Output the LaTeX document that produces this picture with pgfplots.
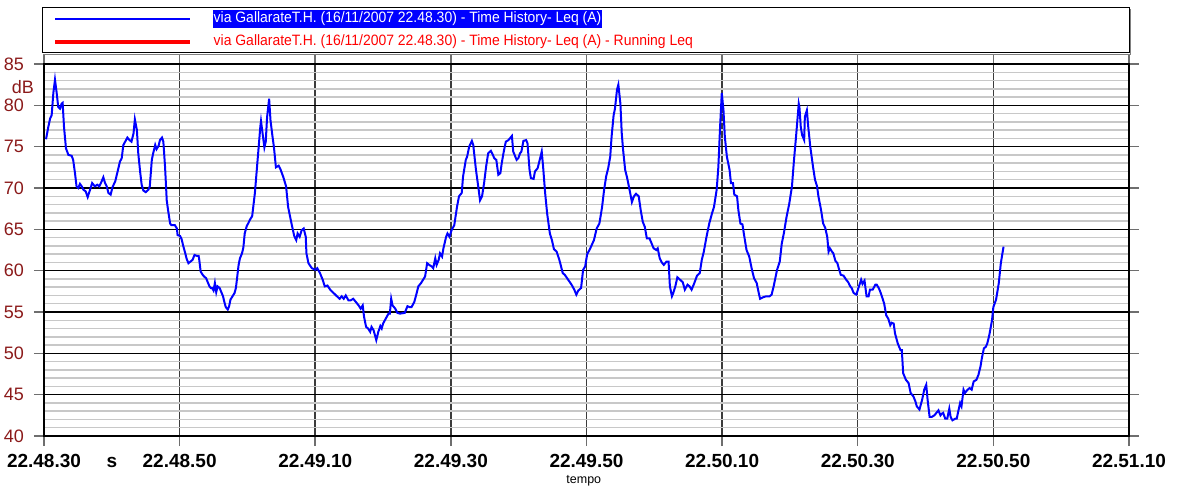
\documentclass[border=0pt]{standalone}
\usepackage{fontspec}
\setmainfont{Liberation Sans}
\usepackage{pgfplots}
\usepackage{graphicx}
\pgfplotsset{compat=1.18}
\definecolor{dred}{RGB}{139,26,26}
\definecolor{vgrid}{RGB}{60,60,60}
\definecolor{mgrid}{RGB}{200,200,200}
\definecolor{tickc}{RGB}{110,110,110}

\pgfplotstableread{
t db
0.3 75.9
0.64 77.4
0.9 78.4
1.13 78.8
1.38 81.5
1.62 83.1
1.87 81.5
2.1 79.8
2.36 79.6
2.6 80.2
2.75 80.3
2.95 77.4
3.24 74.8
3.6 74.0
4.08 73.9
4.3 73.4
4.57 71.8
4.8 70.2
5.06 70.0
5.3 70.5
5.56 70.2
5.8 69.8
6.14 69.6
6.44 68.9
6.8 69.8
7.1 70.6
7.5 70.2
7.86 70.4
8.16 70.2
8.5 70.8
8.75 71.3
9.0 70.6
9.25 70.2
9.5 69.4
9.83 69.2
10.1 70.1
10.5 70.8
10.8 71.8
11.2 73.2
11.46 73.6
11.7 75.2
11.9 75.5
12.3 76.1
12.6 75.8
12.9 75.6
13.2 76.6
13.4 78.3
13.7 77.0
13.9 74.2
14.2 71.8
14.4 70.4
14.65 69.7
15.0 69.5
15.4 69.8
15.6 70.2
15.9 73.4
16.1 74.2
16.4 75.2
16.6 74.7
16.9 75.1
17.1 75.8
17.4 76.1
17.6 75.6
17.85 72.6
18.1 68.5
18.3 67.3
18.6 65.7
18.8 65.5
19.3 65.5
19.6 65.1
19.7 64.3
20.06 64.2
20.3 63.8
20.5 63.1
20.8 62.2
21.05 61.4
21.3 60.9
21.6 61.1
21.9 61.3
22.2 61.9
22.5 61.8
22.8 61.8
22.9 61.3
23.1 59.9
23.4 59.5
23.6 59.3
23.9 59.1
24.1 58.7
24.4 58.1
24.6 57.9
24.8 57.9
25.0 57.6
25.2 58.5
25.4 57.4
25.6 58.1
25.9 57.9
26.1 57.5
26.4 56.9
26.6 56.2
26.8 55.6
27.1 55.3
27.3 55.7
27.5 56.5
27.8 56.9
28.1 57.3
28.3 57.9
28.5 59.3
28.7 60.7
28.9 61.5
29.2 62.1
29.4 62.8
29.6 64.5
29.9 65.4
30.1 65.7
30.4 66.2
30.7 66.6
31.1 69.4
31.5 73.4
31.9 77.4
32.0 78.1
32.3 76.2
32.5 74.9
32.7 75.6
32.9 78.6
33.2 80.8
33.4 78.2
33.7 76.2
33.9 75.0
34.2 72.5
34.6 72.7
34.9 72.2
35.3 71.3
35.7 70.2
36.0 67.7
36.3 66.5
36.5 65.7
36.9 64.2
37.2 63.7
37.4 64.5
37.7 64.1
38.0 64.9
38.3 65.1
38.6 64.1
38.7 62.1
39.0 60.9
39.5 60.3
40.0 60.1
40.3 60.3
40.7 59.7
41.1 58.9
41.4 58.1
41.8 58.2
42.2 57.7
42.7 57.3
43.2 56.9
43.6 56.6
43.9 56.9
44.2 56.6
44.5 57.0
44.9 56.4
45.2 56.4
45.6 56.6
46.0 56.2
46.4 55.8
46.7 55.4
47.0 55.8
47.2 54.4
47.5 53.2
47.8 53.0
48.1 52.6
48.3 53.2
48.6 52.8
49.0 51.6
49.3 52.6
49.6 53.3
49.8 53.0
50.0 53.6
50.4 54.2
50.8 54.8
51.0 54.8
51.2 56.6
51.4 55.8
51.8 55.4
52.1 54.9
52.5 54.8
53.2 54.9
53.6 55.7
53.9 55.6
54.2 55.6
54.6 56.2
54.9 57.1
55.2 58.1
55.6 58.5
55.9 58.9
56.2 59.3
56.5 60.9
56.8 60.7
57.2 60.5
57.4 60.3
57.7 61.5
57.9 60.7
58.2 61.3
58.4 62.1
58.7 61.7
58.9 62.7
59.3 64.1
59.5 64.5
59.8 64.1
60.1 64.9
60.5 65.5
60.9 67.7
61.2 69.0
61.6 69.4
61.8 71.4
62.2 73.4
62.4 73.8
62.7 75.0
63.1 75.7
63.3 75.2
63.7 72.2
64.1 69.8
64.3 68.5
64.6 69.0
64.9 70.6
65.2 72.6
65.5 74.2
65.9 74.5
66.2 74.0
66.4 73.6
66.7 73.4
67.0 71.6
67.3 71.8
67.5 73.0
67.8 74.4
68.1 75.6
68.5 75.8
69.0 76.3
69.2 74.4
69.5 73.8
69.7 73.4
69.95 73.6
70.2 74.2
70.4 74.4
70.7 75.7
71.1 75.8
71.3 75.4
71.6 72.2
71.8 71.2
72.2 71.1
72.4 72.0
72.8 72.4
73.1 73.4
73.4 74.4
73.6 72.6
73.9 69.4
74.2 66.9
74.6 64.5
74.9 63.7
75.2 62.6
75.6 62.3
76.0 61.3
76.5 59.7
76.8 59.5
77.3 58.9
77.8 58.3
78.2 57.7
78.5 57.1
78.8 57.6
79.2 57.9
79.5 60.1
79.8 60.5
80.1 62.0
80.5 62.6
81.1 63.7
81.5 65.1
81.9 65.7
82.3 67.7
82.6 69.8
82.9 71.4
83.2 72.4
83.5 73.8
83.7 76.2
84.0 78.8
84.2 79.6
84.5 81.9
84.7 82.5
85.0 80.2
85.2 76.6
85.4 74.6
85.7 72.2
86.0 71.2
86.3 70.0
86.7 68.3
87.0 69.0
87.3 69.3
87.7 69.0
88.0 67.3
88.3 65.9
88.6 65.3
88.9 63.9
89.3 63.9
89.6 63.3
89.9 62.7
90.3 62.5
90.5 62.7
90.8 61.5
91.1 61.0
91.4 60.7
91.8 61.1
92.1 61.1
92.3 58.1
92.6 56.9
92.8 57.3
93.1 58.1
93.4 59.2
93.8 58.9
94.2 58.6
94.5 57.7
94.9 58.3
95.2 58.1
95.5 57.7
95.9 58.5
96.3 59.4
96.7 59.7
97.0 61.3
97.3 62.3
97.7 64.1
98.1 65.7
98.5 66.9
98.8 67.7
99.2 69.8
99.45 72.6
99.7 77.4
99.95 81.5
100.2 79.4
100.4 76.2
100.7 73.8
101.1 72.2
101.3 70.6
101.6 70.6
101.8 69.2
102.2 69.0
102.4 67.3
102.7 65.7
103.0 65.6
103.2 64.5
103.6 62.5
104.0 61.7
104.4 60.1
104.7 59.1
105.1 58.5
105.4 57.3
105.6 56.6
106.1 56.8
106.5 56.9
107.0 56.9
107.3 57.1
107.6 58.1
107.8 58.9
108.1 60.1
108.5 61.1
108.8 63.3
109.1 64.5
109.5 66.5
109.9 68.1
110.3 70.2
110.6 73.4
110.9 76.2
111.3 80.2
111.4 79.8
111.6 77.4
111.8 76.4
112.1 75.8
112.2 78.6
112.5 79.4
112.7 77.4
113.0 75.0
113.4 72.6
113.7 71.0
114.0 70.2
114.2 69.0
114.6 67.3
114.9 65.7
115.2 65.2
115.5 64.1
115.7 62.3
115.9 62.7
116.2 62.3
116.4 62.1
116.7 61.2
117.0 60.9
117.2 60.3
117.5 59.5
117.9 59.4
118.3 58.9
118.6 58.6
118.9 58.1
119.1 57.9
119.4 57.3
119.8 57.1
120.1 57.9
120.5 58.9
120.7 58.4
121.0 58.8
121.3 56.9
121.6 56.9
121.8 57.7
122.2 57.7
122.6 58.3
122.8 58.3
123.1 57.9
123.3 57.5
123.6 56.8
123.9 56.0
124.2 54.6
124.5 54.2
124.8 53.4
125.0 53.7
125.3 53.6
125.5 52.4
125.9 51.2
126.3 50.4
126.5 50.4
126.7 47.6
127.1 46.8
127.5 46.4
127.8 45.2
128.2 44.8
128.5 44.2
128.7 43.6
129.1 43.2
129.5 44.4
129.8 45.6
130.1 46.2
130.3 44.4
130.6 42.3
130.9 42.3
131.3 42.5
131.7 42.9
131.9 43.1
132.2 42.5
132.4 42.7
132.6 42.8
132.9 42.1
133.2 42.1
133.5 43.3
133.7 42.3
133.96 41.9
134.4 42.1
134.6 42.1
134.8 42.9
135.1 44.0
135.3 43.6
135.6 45.6
135.8 45.2
136.2 45.6
136.5 45.8
136.8 45.6
137.1 46.6
137.5 46.8
137.8 47.4
138.1 48.4
138.3 49.4
138.6 50.6
138.9 50.8
139.1 51.2
139.4 52.2
139.8 54.0
140.0 55.6
140.4 56.5
140.8 58.5
141.1 60.9
141.5 62.9
}\leqdata

\begin{document}
\begin{tikzpicture}
\path[use as bounding box] (-44pt,-52pt) rectangle (1135pt,436pt);
\begin{axis}[
  at={(0pt,0pt)}, anchor=south west,
  scale only axis, width=1085pt, height=372pt,
  xmin=0, xmax=160, ymin=40, ymax=85,
  xtick={0,20,...,160},
  xticklabels={22.48.30,22.48.50,22.49.10,22.49.30,22.49.50,22.50.10,22.50.30,22.50.50,22.51.10},
  ytick={40,45,...,85},
  minor y tick num=4,
  tick align=outside,
  major tick length=10pt,
  minor tick length=0pt,
  every major tick/.style={tickc, line width=1.5pt},
  xmajorgrids, ymajorgrids, yminorgrids,
  x grid style={vgrid, line width=1.5pt},
  major y grid style={black, line width=1.5pt},
  minor y grid style={mgrid, line width=1.5pt},
  axis line style={black, line width=1.5pt},
  /pgf/number format/assume math mode=true,
  xticklabel style={font=\fontsize{19}{19}\selectfont\bfseries, anchor=base, yshift=-21pt, inner sep=0pt},
  yticklabel style={font=\fontsize{18}{18}\selectfont, text=dred, anchor=east, inner sep=0pt, xshift=-10pt},
  clip=false,
]
\addplot[blue, line width=2pt, no markers] table[x=t, y=db] {\leqdata};
\node[anchor=east, inner sep=0pt, xshift=-10pt, text=dred, font=\fontsize{18}{18}\selectfont] at (axis cs:0,82.15) {dB};
\node[anchor=base, inner sep=0pt, yshift=-31pt, font=\fontsize{19}{19}\selectfont\bfseries] at (axis cs:10,40) {s};
\node[anchor=base, inner sep=0pt, yshift=-47pt, font=\fontsize{12.5}{12.5}\selectfont] at (axis cs:79.6,40) {tempo};
\end{axis}
% legend box
\draw[gray, line width=1.5pt] (-1pt,381.5pt) -- (1086.5pt,381.5pt) -- (1086.5pt,427pt);
\draw[black, line width=1pt, fill=white] (-2pt,383pt) rectangle (1085pt,428pt);
\draw[blue, line width=2.5pt] (11pt,417pt) -- (146pt,417pt);
\draw[red, line width=3.5pt] (11pt,394pt) -- (146pt,394pt);
\node[anchor=west, fill=blue, text=white, inner xsep=0.5pt, inner ysep=2pt, font=\fontsize{15}{15}\selectfont] at (169pt,417pt) {\scalebox{0.93}[1]{via GallarateT.H. (16/11/2007 22.48.30) - Time History- Leq (A)}};
\node[anchor=west, text=red, inner xsep=0.5pt, inner ysep=2pt, font=\fontsize{15}{15}\selectfont] at (169pt,394pt) {\scalebox{0.93}[1]{via GallarateT.H. (16/11/2007 22.48.30) - Time History- Leq (A) - Running Leq}};
\end{tikzpicture}
\end{document}
